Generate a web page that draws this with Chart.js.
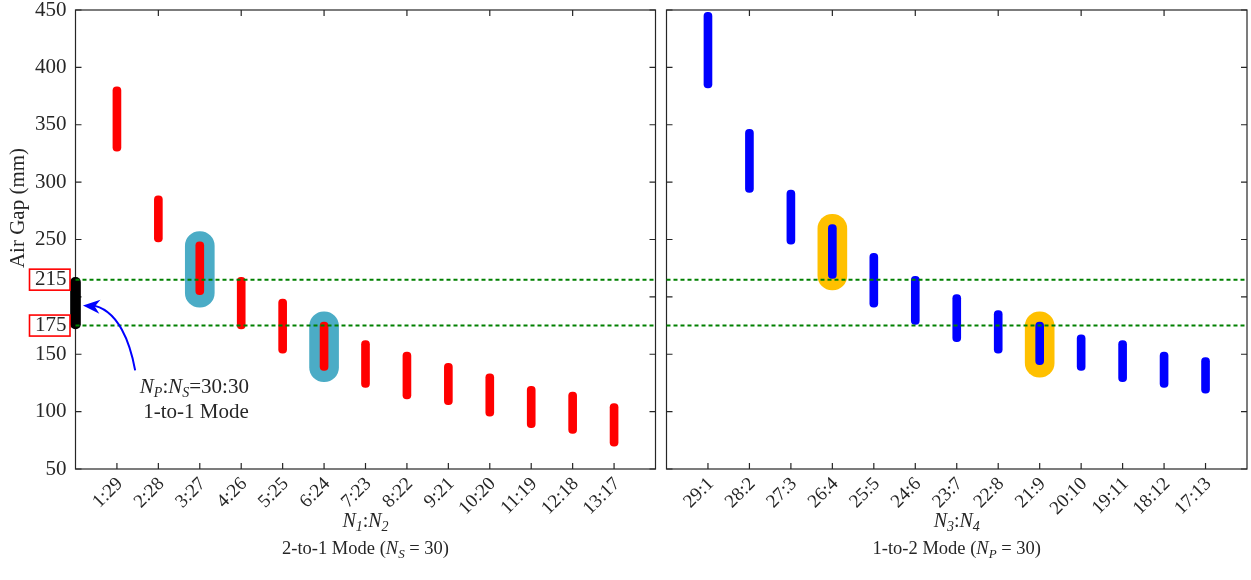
<!DOCTYPE html>
<html><head><meta charset="utf-8">
<script src="https://cdn.jsdelivr.net/npm/chart.js@4.4.0/dist/chart.umd.min.js"></script>
<style>
html,body{margin:0;padding:0;background:#fff;}
#wrap{position:relative;width:1251px;height:580px;overflow:hidden;}
canvas{position:absolute;top:0;}
#c1{left:0;} #c2{left:661px;}
</style></head><body>
<div id="wrap"><canvas id="c1" width="661" height="580"></canvas><canvas id="c2" width="590" height="580"></canvas></div>
<script>
// ---- data (visual extents of each air-gap range, mm) ----
const catsLeft = ['1:29','2:28','3:27','4:26','5:25','6:24','7:23','8:22','9:21','10:20','11:19','12:18','13:17'];
const redLow   = [327, 248, 202, 172, 151, 136, 121, 111, 106,  96,  86,  81,  70];
const redHigh  = [383, 288, 248, 217, 198, 178, 162, 152, 142, 133, 122, 117, 107];
const oneToOneLow  = [172];
const oneToOneHigh = [217];
const hlLeftCats = ['3:27','6:24'];
const hlLeftLow  = [191, 126];
const hlLeftHigh = [257, 187];

const catsRight = ['29:1','28:2','27:3','26:4','25:5','24:6','23:7','22:8','21:9','20:10','19:11','18:12','17:13'];
const blueLow   = [382, 291, 246, 216, 191, 176, 161, 151, 141, 136, 126, 121, 116];
const blueHigh  = [448, 346, 293, 263, 238, 218, 202, 188, 178, 167, 162, 152, 147];
const hlRightCats = ['26:4','21:9'];
const hlRightLow  = [206, 130];
const hlRightHigh = [272, 187];

const yTickValues = [50,100,150,200,250,300,350,400,450];
const yLabelValuesLeft = [50,100,150,175,215,250,300,350,400,450];
const boxedLabels = [215,175];
const refLines = [215,175];

// ---- helpers ----
const FONT = "'Liberation Serif', 'Times New Roman', serif";
const AXC = '#262626';
function withEnds(cats){ return [''].concat(cats, ['']); }
function rangeData(labels, cats, lo, hi){
  return labels.map(l => { const k = cats.indexOf(l); return (l !== '' && k >= 0) ? [lo[k], hi[k]] : null; });
}
function drawRich(ctx, segs, cx, cy, size){
  const fontOf = st => (st === 'n' ? '' : 'italic ') + (st === 's' ? Math.round(size*0.68) : size) + 'px ' + FONT;
  let w = 0;
  segs.forEach(([t, st]) => { ctx.font = fontOf(st); w += ctx.measureText(t).width; });
  let x = cx - w/2;
  ctx.textBaseline = 'middle'; ctx.textAlign = 'left'; ctx.fillStyle = AXC;
  segs.forEach(([t, st]) => {
    ctx.font = fontOf(st);
    ctx.fillText(t, x, st === 's' ? cy + size*0.28 : cy);
    x += ctx.measureText(t).width;
  });
}

function framePlugin(cfg){
  return {
    id: 'frame' + cfg.name,
    beforeDatasetsDraw(chart){
      const ctx = chart.ctx, a = chart.chartArea, xs = chart.scales.x, ys = chart.scales.y;
      ctx.save();
      ctx.strokeStyle = AXC; ctx.lineWidth = 1.2;
      ctx.strokeRect(a.left, a.top, a.right - a.left, a.bottom - a.top);
      const TL = 6;
      ctx.beginPath();
      yTickValues.forEach(v => {
        const y = ys.getPixelForValue(v);
        ctx.moveTo(a.left, y); ctx.lineTo(a.left + TL, y);
        ctx.moveTo(a.right, y); ctx.lineTo(a.right - TL, y);
      });
      const n = xs.ticks.length;
      for (let i = 1; i < n - 1; i++) {
        const x = xs.getPixelForTick(i);
        ctx.moveTo(x, a.bottom); ctx.lineTo(x, a.bottom - TL);
        if (i % 2 === 0) { ctx.moveTo(x, a.top); ctx.lineTo(x, a.top + TL); }
      }
      ctx.stroke();
      ctx.restore();
    },
    afterDatasetsDraw(chart){
      const ctx = chart.ctx, a = chart.chartArea, xs = chart.scales.x, ys = chart.scales.y;
      ctx.save();
      ctx.strokeStyle = '#008000'; ctx.lineWidth = 2; ctx.setLineDash([4,3]);
      refLines.forEach(v => {
        const y = ys.getPixelForValue(v);
        ctx.beginPath(); ctx.moveTo(a.left, y); ctx.lineTo(a.right, y); ctx.stroke();
      });
      ctx.setLineDash([]);
      if (cfg.left) {
        ctx.strokeStyle = '#ff0000'; ctx.lineWidth = 1.6;
        boxedLabels.forEach(v => {
          const y = ys.getPixelForValue(v);
          ctx.strokeRect(a.left - 46, y - 10.5, 40.5, 21);
        });
        const P = (xv, yv) => [xs.getPixelForValue(xv), ys.getPixelForValue(yv)];
        const t0 = P(1.44, 136), c1 = P(1.33, 158), c2 = P(1.05, 190), t1 = P(0.36, 193);
        const tip = P(0.18, 192.5);
        ctx.strokeStyle = '#0000ff'; ctx.fillStyle = '#0000ff'; ctx.lineWidth = 2;
        ctx.beginPath(); ctx.moveTo(t0[0], t0[1]);
        ctx.bezierCurveTo(c1[0], c1[1], c2[0], c2[1], t1[0], t1[1]); ctx.stroke();
        const ang = Math.atan2(tip[1] - c2[1], tip[0] - c2[0]);
        const L = 17, W = 7;
        const bx = tip[0] - L*Math.cos(ang), by = tip[1] - L*Math.sin(ang);
        const mx = tip[0] - L*0.7*Math.cos(ang), my = tip[1] - L*0.7*Math.sin(ang);
        ctx.beginPath();
        ctx.moveTo(tip[0], tip[1]);
        ctx.lineTo(bx - W*Math.sin(ang), by + W*Math.cos(ang));
        ctx.lineTo(mx, my);
        ctx.lineTo(bx + W*Math.sin(ang), by - W*Math.cos(ang));
        ctx.closePath(); ctx.fill();
        const p1 = P(2.87, 121), p2 = P(2.91, 99.5);
        drawRich(ctx, [['N','i'],['P','s'],[':','n'],['N','i'],['S','s'],['=30:30','n']], p1[0], p1[1], 21);
        drawRich(ctx, [['1-to-1 Mode','n']], p2[0], p2[1], 21);
        ctx.save();
        ctx.translate(18, 208); ctx.rotate(-Math.PI/2);
        ctx.font = '21px ' + FONT; ctx.fillStyle = AXC; ctx.textAlign = 'center'; ctx.textBaseline = 'middle';
        ctx.fillText('Air Gap (mm)', 0, 0);
        ctx.restore();
      }
      const cx = (a.left + a.right) / 2;
      drawRich(ctx, cfg.title1, cx, 522, 20);
      drawRich(ctx, cfg.title2, cx, 549, 18.5);
      ctx.restore();
    }
  };
}

function makeChart(id, cats, low, high, color, hlCats, hlLow, hlHigh, hlColor, left){
  const labels = withEnds(cats);
  const datasets = [
    { data: rangeData(labels, hlCats, hlLow, hlHigh), backgroundColor: hlColor, barThickness: 29,
      borderRadius: 100, borderSkipped: false, grouped: false, order: 3 },
    { data: rangeData(labels, cats, low, high), backgroundColor: color, barThickness: 8,
      borderRadius: 100, borderSkipped: false, grouped: false, order: 1 }
  ];
  if (left) {
    datasets.push({ data: labels.map((l,i) => i === 0 ? [oneToOneLow[0], oneToOneHigh[0]] : null),
      backgroundColor: '#000000', barThickness: 10, borderRadius: 100, borderSkipped: false,
      grouped: false, order: 0, clip: false });
  }
  const cfg = left
    ? { name: 'L', left: true,
        title1: [['N','i'],['1','s'],[':','n'],['N','i'],['2','s']],
        title2: [['2-to-1 Mode (','n'],['N','i'],['S','s'],[' = 30)','n']] }
    : { name: 'R', left: false,
        title1: [['N','i'],['3','s'],[':','n'],['N','i'],['4','s']],
        title2: [['1-to-2 Mode (','n'],['N','i'],['P','s'],[' = 30)','n']] };
  return new Chart(document.getElementById(id), {
    type: 'bar',
    data: { labels, datasets },
    options: {
      responsive: false, animation: false, devicePixelRatio: 1,
      layout: { padding: left ? { top: 10, right: 5.5, left: 0, bottom: 0 } : { top: 10, right: 4, left: 5.5, bottom: 0 } },
      plugins: { legend: { display: false }, tooltip: { enabled: false } },
      scales: {
        x: {
          type: 'category', offset: false,
          grid: { display: false, drawTicks: false }, border: { display: false },
          ticks: { autoSkip: false, minRotation: 45, maxRotation: 45, padding: 4, labelOffset: 3, color: AXC,
                   font: { family: FONT, size: 19 } },
          afterFit: s => { s.height = 111; s.paddingLeft = 0; s.paddingRight = 0; }
        },
        y: {
          display: left, min: 50, max: 450,
          grid: { display: false, drawTicks: false }, border: { display: false },
          afterBuildTicks: s => { s.ticks = yLabelValuesLeft.map(v => ({ value: v })); },
          ticks: { padding: 9, color: AXC, font: { family: FONT, size: 21 }, callback: v => String(v) },
          afterFit: s => { s.width = left ? 75.5 : 0; s.paddingTop = 0; s.paddingBottom = 0; }
        }
      }
    },
    plugins: [framePlugin(cfg)]
  });
}

makeChart('c1', catsLeft, redLow, redHigh, '#ff0000', hlLeftCats, hlLeftLow, hlLeftHigh, '#4bacc6', true);
makeChart('c2', catsRight, blueLow, blueHigh, '#0000ff', hlRightCats, hlRightLow, hlRightHigh, '#ffc000', false);
</script>
</body></html>
